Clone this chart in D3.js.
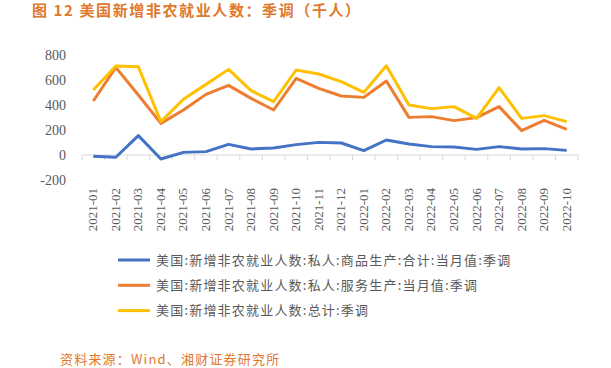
<!DOCTYPE html>
<html>
<head>
<meta charset="utf-8">
<script src="https://cdn.jsdelivr.net/npm/d3@7"></script>
<style>
  body { margin: 0; background: #fff; }
  svg { display: block; }
</style>
</head>
<body>
<div id="chart"></div>
<script>
const months = ["2021-01","2021-02","2021-03","2021-04","2021-05","2021-06","2021-07","2021-08","2021-09","2021-10","2021-11","2021-12",
                "2022-01","2022-02","2022-03","2022-04","2022-05","2022-06","2022-07","2022-08","2022-09","2022-10"];
const goods    = [-10, -18, 155, -32, 21, 27, 85, 48, 56, 83, 101, 96, 35, 120, 88, 67, 64, 45, 67, 48, 51, 37];
const services = [432, 701, 480, 253, 360, 485, 557, 453, 360, 613, 533, 472, 461, 592, 301, 307, 275, 299, 387, 195, 277, 205];
const total    = [520, 712, 706, 267, 446, 565, 685, 515, 427, 680, 648, 587, 501, 714, 400, 371, 387, 293, 539, 293, 315, 267];
const yTicks = [-200, 0, 200, 400, 600, 800];

const series = [
    { name: "美国:新增非农就业人数:私人:商品生产:合计:当月值:季调", values: goods, color: "#4472C4" },
    { name: "美国:新增非农就业人数:私人:服务生产:当月值:季调", values: services, color: "#ED7D31" },
    { name: "美国:新增非农就业人数:总计:季调", values: total, color: "#FFC000" }
];

const serif = "'Liberation Serif', 'DejaVu Serif', serif";
const cjk = "'Noto Sans CJK SC', sans-serif";

const W = 611, H = 368;
const svg = d3.select("#chart").append("svg").attr("width", W).attr("height", H);

const x = d3.scaleBand().domain(months).range([82, 578]);
const y = d3.scaleLinear().domain([-200, 800]).range([180, 55]);

// title
svg.append("text")
    .attr("x", 32).attr("y", 16)
    .attr("fill", "#E0782E")
    .style("font-family", cjk)
    .style("font-size", "15px")
    .style("font-weight", "bold")
    .style("letter-spacing", "1.6px")
    .text("图 12 美国新增非农就业人数：季调（千人）");

// y axis labels
svg.append("g")
    .attr("transform", "translate(66,0)")
    .call(d3.axisLeft(y).tickValues(yTicks).tickSize(0).tickPadding(0).tickFormat(d => String(d)))
    .call(g => g.select(".domain").remove())
    .selectAll("text")
    .attr("fill", "#595959")
    .style("font-family", serif)
    .style("font-size", "14px");

// x axis at zero
const xAxis = svg.append("g").attr("transform", `translate(0,${y(0)})`);
xAxis.append("line")
    .attr("x1", x.range()[0]).attr("x2", x.range()[1])
    .attr("stroke", "#D9D9D9");
xAxis.selectAll(".tk")
    .data(months.concat(["end"]))
    .enter().append("line")
    .attr("x1", (d, i) => x.range()[0] + i * x.step())
    .attr("x2", (d, i) => x.range()[0] + i * x.step())
    .attr("y1", 0).attr("y2", 5)
    .attr("stroke", "#D9D9D9");

// x labels (rotated)
svg.append("g").selectAll("text")
    .data(months)
    .enter().append("text")
    .attr("transform", d => `translate(${x(d) + x.bandwidth() / 2 + 4},188) rotate(-90)`)
    .attr("text-anchor", "end")
    .attr("fill", "#595959")
    .style("font-family", serif)
    .style("font-size", "13px")
    .text(d => d);

// lines
const line = d3.line()
    .x((d, i) => x(months[i]) + x.bandwidth() / 2)
    .y(d => y(d));

svg.append("g").selectAll("path")
    .data(series)
    .enter().append("path")
    .attr("d", d => line(d.values))
    .attr("fill", "none")
    .attr("stroke", d => d.color)
    .attr("stroke-width", 3)
    .attr("stroke-linejoin", "round");

// legend
const legend = svg.append("g").selectAll("g")
    .data(series)
    .enter().append("g")
    .attr("transform", (d, i) => `translate(118,${260 + i * 25.3})`);
legend.append("line")
    .attr("x1", 0).attr("x2", 32)
    .attr("stroke", d => d.color)
    .attr("stroke-width", 3);
legend.append("text")
    .attr("x", 38).attr("y", 4.5)
    .attr("fill", "#595959")
    .style("font-family", cjk)
    .style("font-size", "13px")
    .style("letter-spacing", "1.2px")
    .text(d => d.name);

// source
svg.append("text")
    .attr("x", 60).attr("y", 364)
    .attr("fill", "#E0782E")
    .style("font-family", cjk)
    .style("font-size", "13px")
    .style("letter-spacing", "1.2px")
    .text("资料来源：Wind、湘财证券研究所");
</script>
</body>
</html>
